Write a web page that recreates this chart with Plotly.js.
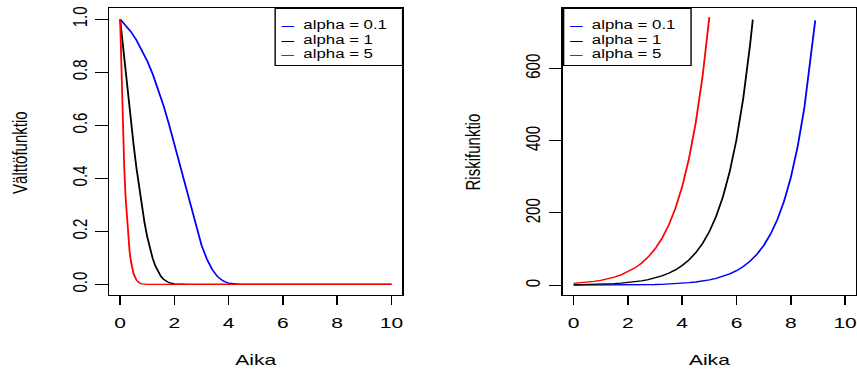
<!DOCTYPE html>
<html>
<head>
<meta charset="utf-8">
<script src="https://cdn.plot.ly/plotly-3.0.1.min.js"></script>
<style>
html, body { margin: 0; padding: 0; overflow: hidden; background: #fff; }
#plot { width: 612px; height: 372px; transform: scaleX(1.40033); transform-origin: 0 0; }
</style>
</head>
<body>
<div id="plot"></div>
<script>
// ---- Data ----
const seriesNames = ["alpha = 0.1", "alpha = 1", "alpha = 5"];
const seriesColors = ["#0000FF", "#000000", "#FF0000"];

// Left panel: survival (Välttöfunktio) vs time (Aika)
const tSurvA01 = [0,0.2,0.4,0.6,0.8,1.0,1.2,1.4,1.6,1.8,2.0,2.2,2.4,2.6,2.8,3.0,3.2,3.4,3.6,3.8,4.0,4.2,4.4,4.6,5,6,7,8,9,10];
const survA01  = [1,0.978,0.952,0.921,0.885,0.842,0.793,0.737,0.674,0.604,0.528,0.448,0.367,0.288,0.213,0.148,0.095,0.055,0.028,0.013,0.0043,0.0014,0.0003,0.00005,0,0,0,0,0,0];

const tSurvA1 = [0,0.1,0.2,0.3,0.4,0.5,0.6,0.7,0.8,0.9,1.0,1.1,1.2,1.3,1.4,1.5,1.6,1.8,2.0,2.2,2.5,3,4,5,6,7,8,9,10];
const survA1  = [1,0.900,0.801,0.705,0.612,0.523,0.440,0.363,0.294,0.232,0.179,0.135,0.098,0.069,0.047,0.031,0.019,0.0064,0.0017,0.0003,0,0,0,0,0,0,0,0,0];

const tSurvA5 = [0,0.05,0.1,0.15,0.2,0.25,0.3,0.35,0.4,0.5,0.6,0.7,0.8,0.9,1.0,1.2,1.5,2,3,4,5,6,7,8,9,10];
const survA5  = [1,0.774,0.591,0.445,0.331,0.242,0.174,0.123,0.0855,0.039,0.0164,0.0063,0.0022,0.0007,0.0002,0,0,0,0,0,0,0,0,0,0,0];

// Right panel: hazard (Riskifunktio) vs time (Aika)
const tHazA01 = [0,0.25,0.5,0.75,1,1.25,1.5,1.75,2,2.25,2.5,2.75,3,3.25,3.5,3.75,4,4.25,4.5,4.75,5,5.25,5.5,5.75,6,6.25,6.5,6.75,7,7.25,7.5,7.75,8,8.25,8.5,8.75,8.9];
const hazA01  = [0.1,0.128,0.165,0.212,0.272,0.349,0.448,0.575,0.739,0.949,1.218,1.564,2.009,2.579,3.312,4.252,5.46,7.011,9.002,11.558,14.841,19.057,24.469,31.419,40.343,51.801,66.514,85.406,109.663,140.81,180.804,232.157,298.096,382.763,491.477,631.069,733.197];

const tHazA1 = [0,0.25,0.5,0.75,1,1.25,1.5,1.75,2,2.25,2.5,2.75,3,3.25,3.5,3.75,4,4.25,4.5,4.75,5,5.25,5.5,5.75,6,6.25,6.5,6.6];
const hazA1  = [1,1.28,1.65,2.12,2.72,3.49,4.48,5.75,7.39,9.49,12.18,15.64,20.09,25.79,33.12,42.52,54.6,70.11,90.02,115.58,148.41,190.57,244.69,314.19,403.43,518.01,665.14,735.1];

const tHazA5 = [0,0.25,0.5,0.75,1,1.25,1.5,1.75,2,2.25,2.5,2.75,3,3.25,3.5,3.75,4,4.25,4.5,4.75,5];
const hazA5  = [5,6.42,8.24,10.59,13.59,17.45,22.41,28.77,36.95,47.44,60.91,78.21,100.43,128.95,165.58,212.61,272.99,350.53,450.09,577.92,742.07];

// Tick labels
const xTicks = [0,2,4,6,8,10];
const ySurvTicks = [0,0.2,0.4,0.6,0.8,1.0];
const ySurvTickText = ["0.0","0.2","0.4","0.6","0.8","1.0"];
const yHazTicks = [0,200,400,600];
const xTitle = "Aika";
const ySurvTitle = "Välttöfunktio";
const yHazTitle = "Riskifunktio";

// ---- Build traces ----
const FONT = "Liberation Sans, Arial, Helvetica, sans-serif";
const survX = [tSurvA01, tSurvA1, tSurvA5];
const survY = [survA01, survA1, survA5];
const hazX = [tHazA01, tHazA1, tHazA5];
const hazY = [hazA01, hazA1, hazA5];

const traces = [];
for (let i = 0; i < 3; i++) {
  traces.push({
    type: "scatter", mode: "lines", x: survX[i], y: survY[i],
    xaxis: "x", yaxis: "y", name: seriesNames[i], showlegend: false,
    line: { color: seriesColors[i], width: 1.3 }, hoverinfo: "skip"
  });
}
for (let i = 0; i < 3; i++) {
  traces.push({
    type: "scatter", mode: "lines", x: hazX[i], y: hazY[i],
    xaxis: "x2", yaxis: "y2", name: seriesNames[i], showlegend: false,
    line: { color: seriesColors[i], width: 1.3 }, hoverinfo: "skip"
  });
}

function axisBase() {
  return {
    showline: true, mirror: true, linecolor: "#000", linewidth: 1,
    ticks: "outside", ticklen: 9, tickwidth: 1, tickcolor: "#000",
    showgrid: false, zeroline: false,
    tickfont: { family: FONT, size: 15, color: "#000" }
  };
}

const domX1 = [0.1275, 0.4694];
const domX2 = [0.6566, 0.9988];
const domY = [0.2070, 0.9772];

// R-style legend: a framed box with one row per series (short line sample + label)
const legendRowY = [0.9315, 0.8920, 0.8535];
const legendBoxWidthPaper = 91.6 / 612;
function legendAnnotations(boxLeft) {
  const out = [{
    text: "\u00a0", xref: "paper", yref: "paper", x: boxLeft, y: domY[1],
    xanchor: "left", yanchor: "top", width: 90, height: 56, showarrow: false,
    bgcolor: "#fff", bordercolor: "#000", borderwidth: 1, borderpad: 0,
    font: { family: FONT, size: 11, color: "#000" }
  }];
  for (let i = 0; i < seriesNames.length; i++) {
    out.push({
      text: "<b><span style=\"color:" + seriesColors[i] + ";font-size:9px\">—</span></b>\u00a0\u00a0" + seriesNames[i],
      xref: "paper", yref: "paper", x: boxLeft + 4.2 / 612, y: legendRowY[i],
      xanchor: "left", yanchor: "middle", align: "left", showarrow: false,
      borderpad: 0, font: { family: FONT, size: 12, color: "#000" }
    });
  }
  return out;
}
const titleFont = { family: FONT, size: 15, color: "#000" };

const layout = {
  width: 612, height: 372,
  margin: { l: 0, r: 0, t: 0, b: 0, pad: 0 },
  paper_bgcolor: "#fff", plot_bgcolor: "#fff",
  font: { family: FONT, color: "#000" },
  showlegend: false,
  xaxis: Object.assign(axisBase(), { domain: domX1, range: [-0.4, 10.4], tickvals: xTicks, anchor: "y", ticklabelstandoff: 5 }),
  yaxis: Object.assign(axisBase(), { domain: domY, range: [-0.04, 1.04], tickvals: ySurvTicks, ticktext: ySurvTickText, tickangle: -90, anchor: "x", ticklabelstandoff: 6.5 }),
  xaxis2: Object.assign(axisBase(), { domain: domX2, range: [-0.4, 10.4], tickvals: xTicks, anchor: "y2", ticklabelstandoff: 5 }),
  yaxis2: Object.assign(axisBase(), { domain: domY, range: [-27, 766], tickvals: yHazTicks, tickangle: -90, anchor: "x2", ticklabelstandoff: 6.5 }),
  annotations: [
    { text: xTitle, xref: "paper", yref: "paper", x: 0.2987, y: 0.0323, xanchor: "center", yanchor: "middle", showarrow: false, font: titleFont },
    { text: xTitle, xref: "paper", yref: "paper", x: 0.8278, y: 0.0323, xanchor: "center", yanchor: "middle", showarrow: false, font: titleFont },
    { text: ySurvTitle, xref: "paper", yref: "paper", x: 0.0228, y: 0.5914, xanchor: "center", yanchor: "middle", textangle: -90, showarrow: false, font: titleFont },
    { text: yHazTitle, xref: "paper", yref: "paper", x: 0.5519, y: 0.5922, xanchor: "center", yanchor: "middle", textangle: -90, showarrow: false, font: titleFont }
  ].concat(legendAnnotations(domX1[1] - legendBoxWidthPaper), legendAnnotations(domX2[0]))
};

Plotly.newPlot("plot", traces, layout, { staticPlot: true, displayModeBar: false });
</script>
</body>
</html>
